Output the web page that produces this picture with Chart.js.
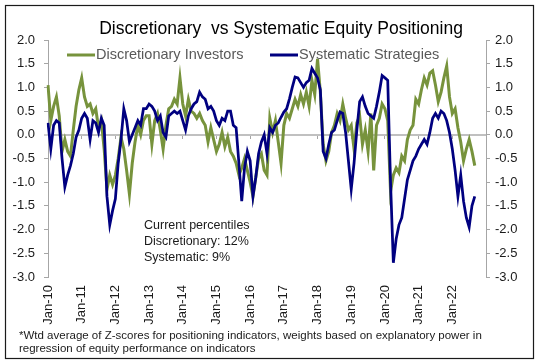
<!DOCTYPE html>
<html>
<head>
<meta charset="utf-8">
<script src="https://cdn.jsdelivr.net/npm/chart.js@4.4.0/dist/chart.umd.min.js"></script>
<style>
  html, body { margin: 0; padding: 0; background: #fff; }
  #wrap { width: 536px; height: 363px; }
</style>
</head>
<body>
<div id="wrap"><canvas id="positioningChart" width="536" height="363"></canvas></div>
<script>
// month axis: Jan-10 .. Jan-23
const monthNames = ['Jan', 'Feb', 'Mar', 'Apr', 'May', 'Jun', 'Jul', 'Aug', 'Sep', 'Oct', 'Nov', 'Dec'];
const years = ['10', '11', '12', '13', '14', '15', '16', '17', '18', '19', '20', '21', '22'];
const axisEnd = 'Jan-23';

// monthly readings, one row per year (2022 ends in Sep)
const discretionary = [
    1.05, 0.3, 0.6, 0.8, 0.4, -0.35, -0.1, -0.35, -0.45, 0.1, 0.6, 0.95,
    1.2, 0.8, 0.6, 0.65, 0.45, 0.55, 0.15, 0.3, -0.3, -1.15, -0.85, -1.05,
    -0.85, -0.5, -0.05, -0.3, -0.75, -1.25, -0.6, -0.15, 0.2, 0.0, 0.3, 0.4,
    0.4, -0.2, 0.3, 0.45, 0.1, -0.3, 0.2, 0.55, 0.6, 0.75, 0.65, 1.2,
    0.65, 0.4, 0.75, 0.5, 0.45, 0.35, 0.45, 0.3, 0.2, -0.15, 0.15, -0.1,
    -0.35, -0.2, 0.05, -0.25, -0.05, -0.35, -0.45, -0.6, -0.85, -0.7, -0.5, -0.75,
    -1.0, -1.3, -0.9, -0.5, -0.4, -0.75, -0.85, 0.35, 0.05, 0.3, -0.15, -0.6,
    0.2, 0.45, 0.35, 0.55, 0.75, 0.6, 0.85, 0.65, 0.9, 0.6, 1.15, 0.85,
    1.6, 0.9, -0.2, -0.55, -0.35, 0.05, 0.2, 0.45, 0.3, 0.65, 0.35, 0.1,
    0.2, -0.3, 0.25, 0.4, -0.2, 0.1, -0.35, 0.45, -0.75, 0.2, 0.35, 0.65,
    0.55, 0.3, -1.2, -0.85, -0.7, -0.8, -0.45, -0.55, -0.1, 0.1, 0.2, 0.75,
    0.65, 0.95, 1.2, 1.05, 1.3, 1.35, 1.05, 0.7, 0.9, 1.2, 1.45, 0.8,
    0.45, 0.55, 0.15, -0.15, -0.55, -0.3, -0.1, -0.35, -0.65
];
const systematic = [
    0.25, -0.3, 0.2, 0.3, 0.25, -0.5, -1.1, -0.85, -0.65, -0.4, -0.05, 0.1,
    0.35, 0.45, 0.35, -0.1, 0.3, 0.25, 0.05, 0.35, 0.2, -1.3, -1.9, -1.6,
    -1.35, -0.6, -0.1, 0.55, 0.3, -0.15, 0.0, 0.15, 0.3, 0.2, 0.55, 0.55,
    0.65, 0.6, 0.5, 0.3, 0.4, 0.05, -0.05, 0.4, 0.45, 0.5, 0.45, 0.5,
    0.3, 0.1, 0.4, 0.55, 0.65, 0.7, 0.9, 0.8, 0.75, 0.55, 0.6, 0.5,
    0.3, 0.2, 0.35, 0.3, 0.5, 0.5, 0.2, 0.15, -0.6, -1.4, -0.7, -0.35,
    -0.55, -1.3, -0.9, -0.4, -0.15, 0.0, -0.4, 0.15, 0.05, 0.2, 0.25, 0.37,
    0.48, 0.55, 0.76, 1.0, 1.22, 1.2, 1.1, 1.0, 1.1, 1.15, 1.4, 1.3,
    1.2, 0.95, -0.35, -0.5, -0.2, 0.05, 0.1, 0.3, 0.48, 0.45, 0.05, -0.55,
    -1.15, -0.6, 0.1, 0.7, 0.8, 0.6, 0.45, 0.4, 0.35, 0.6, 0.9, 1.25,
    1.2, 1.15, -1.0, -2.7, -2.2, -1.9, -1.75, -1.35, -0.95, -0.75, -0.55, -0.45,
    -0.3, -0.2, -0.1, -0.2, 0.05, 0.35, 0.45, 0.35, 0.5, 0.45, 0.3, 0.05,
    -0.3, -0.75, -1.3, -0.85, -1.4, -1.75, -1.95, -1.5, -1.3
];

const titleText = 'Discretionary  vs Systematic Equity Positioning';
const noteLines = ['Current percentiles', 'Discretionary: 12%', 'Systematic: 9%'];
const footLines = [
    '*Wtd average of Z-scores for positioning indicators, weights based on explanatory power in',
    'regression of equity performance on indicators'
];

const monthLabels = [];
years.forEach(y => monthNames.forEach(m => monthLabels.push(m + '-' + y)));
monthLabels.push(axisEnd);

const FONT = "'Liberation Sans', Arial, sans-serif";
const isJan = i => i < monthLabels.length - 1 && monthLabels[i].startsWith('Jan');

// title, in-plot legend, note, footnote and frame
const decor = {
    id: 'decor',
    afterDraw(chart) {
        const c = chart.ctx;
        c.save();
        c.strokeStyle = '#1a1a1a';
        c.lineWidth = 1.2;
        c.strokeRect(5.5, 5.5, 528, 353);

        c.fillStyle = '#000';
        c.font = '17.5px ' + FONT;
        c.textAlign = 'center';
        c.textBaseline = 'alphabetic';
        c.fillText(titleText, 281, 34);

        // legend, dataset order kept
        const legendX = [67, 270];
        c.font = '14.5px ' + FONT;
        c.textAlign = 'left';
        c.textBaseline = 'middle';
        chart.data.datasets.forEach((ds, i) => {
            c.strokeStyle = ds.borderColor;
            c.lineWidth = 3;
            c.beginPath();
            c.moveTo(legendX[i], 55);
            c.lineTo(legendX[i] + 28, 55);
            c.stroke();
            c.fillStyle = '#595959';
            c.fillText(ds.label, legendX[i] + 29, 55);
        });

        c.fillStyle = '#1a1a1a';
        c.font = '12.5px ' + FONT;
        noteLines.forEach((t, i) => c.fillText(t, 144, 226 + i * 16));

        c.font = '11.5px ' + FONT;
        footLines.forEach((t, i) => c.fillText(t, 19, 335.5 + i * 13.5));
        c.restore();
    }
};

const ctx = document.getElementById('positioningChart').getContext('2d');
new Chart(ctx, {
    type: 'line',
    data: {
        labels: monthLabels,
        datasets: [{
            label: 'Discretionary Investors',
            data: discretionary,
            borderColor: '#77933c',
            borderWidth: 3,
            pointRadius: 0,
            order: 1
        }, {
            label: 'Systematic Strategies',
            data: systematic,
            borderColor: '#000080',
            borderWidth: 2.75,
            pointRadius: 0,
            order: 0
        }]
    },
    options: {
        responsive: false,
        animation: false,
        layout: { padding: { top: 40, left: 10, right: 10, bottom: 38 } },
        plugins: {
            legend: { display: false },
            tooltip: { enabled: false }
        },
        scales: {
            x: {
                type: 'category',
                offset: false,
                grid: { display: false, drawTicks: false },
                border: { display: false },
                ticks: {
                    autoSkip: false,
                    minRotation: 90,
                    maxRotation: 90,
                    padding: 8,
                    color: '#1a1a1a',
                    font: { family: FONT, size: 13 },
                    callback: (v, i) => isJan(i) ? monthLabels[i] : ''
                },
                afterFit: s => { s.height = 48; }
            },
            xz: {
                type: 'category',
                position: { y: 0 },
                offset: false,
                grid: {
                    drawOnChartArea: false,
                    drawTicks: true,
                    tickLength: 4,
                    tickWidth: 1,
                    color: c => isJan(c.index) ? '#a6a6a6' : 'rgba(0,0,0,0)'
                },
                border: { display: false },
                ticks: { display: false, autoSkip: false }
            },
            y: {
                position: 'left',
                min: -3,
                max: 2,
                ticks: {
                    stepSize: 0.5,
                    padding: 9,
                    color: '#1a1a1a',
                    font: { family: FONT, size: 13 },
                    callback: v => v.toFixed(1)
                },
                grid: {
                    color: c => (c.tick && c.tick.value === 0) ? '#c0c0c0' : 'rgba(0,0,0,0)',
                    lineWidth: c => (c.tick && c.tick.value === 0) ? 2 : 1,
                    tickColor: '#a6a6a6',
                    tickLength: 4,
                    tickWidth: 1
                },
                border: { display: true, color: '#a6a6a6', width: 1 },
                afterFit: s => { s.width = 38; }
            },
            y2: {
                position: 'right',
                min: -3,
                max: 2,
                ticks: {
                    stepSize: 0.5,
                    padding: 5,
                    color: '#1a1a1a',
                    font: { family: FONT, size: 13 },
                    callback: v => v.toFixed(1)
                },
                grid: {
                    drawOnChartArea: false,
                    tickColor: '#a6a6a6',
                    tickLength: 4,
                    tickWidth: 1
                },
                border: { display: true, color: '#a6a6a6', width: 1 },
                afterFit: s => { s.width = 40; }
            }
        }
    },
    plugins: [decor]
});
</script>
</body>
</html>
